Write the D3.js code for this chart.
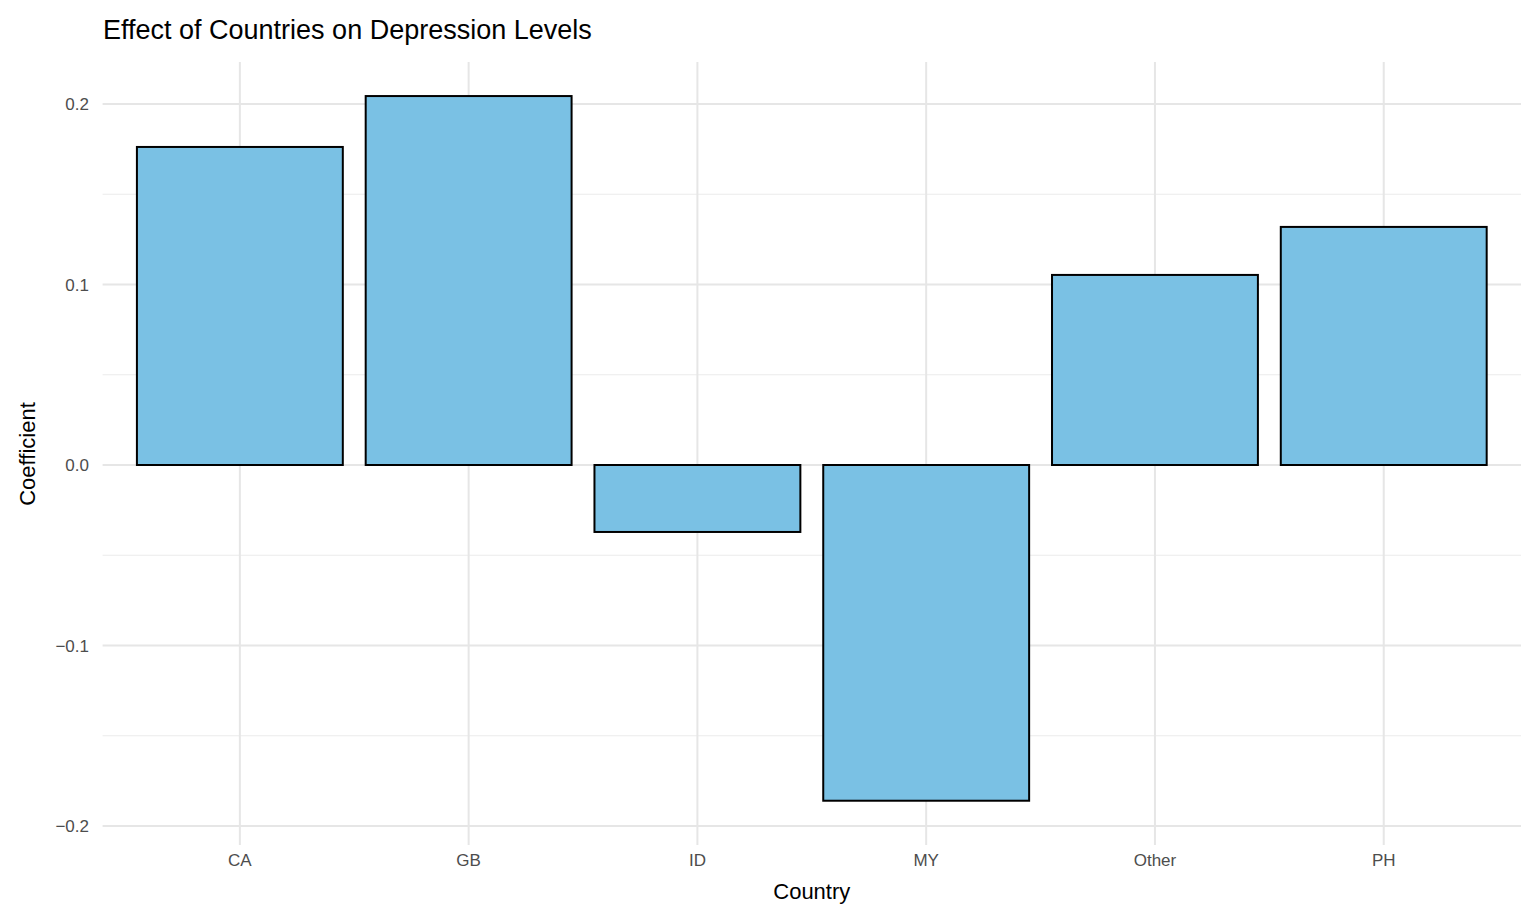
<!DOCTYPE html>
<html lang="en">
<head>
  <meta charset="UTF-8">
  <script src="https://d3js.org/d3.v7.min.js"></script>
  <style>
    body { margin: 0; background: #fff; }
    text { font-family: "Liberation Sans", Arial, sans-serif; }
  </style>
</head>
<body>
  <svg id="chart" width="1536" height="921"></svg>
  <script>
    const countries = ["CA", "GB", "ID", "MY", "Other", "PH"];
    const coefficients = [0.1762, 0.2044, -0.0371, -0.186, 0.1053, 0.1319];
    const yTicks = [-0.2, -0.1, 0.0, 0.1, 0.2];
    const yMinor = [-0.15, -0.05, 0.05, 0.15];

    const data = countries.map((c, i) => ({ country: c, value: coefficients[i] }));
    const svg = d3.select("#chart");
    const panel = { left: 102.6, right: 1521, top: 62, bottom: 845 };

    const xScale = d3.scaleBand()
      .domain(countries)
      .range([panel.left, panel.right])
      .paddingInner(0.1)
      .paddingOuter(0.15);
    const yScale = d3.scaleLinear().domain([-0.2, 0.2]).range([826, 104]);

    //Gridlines
    svg.selectAll("line.minor").data(yMinor).join("line")
      .attr("x1", panel.left).attr("x2", panel.right)
      .attr("y1", d => yScale(d)).attr("y2", d => yScale(d))
      .attr("stroke", "#ebebeb").attr("stroke-width", 1);
    svg.selectAll("line.major").data(yTicks).join("line")
      .attr("x1", panel.left).attr("x2", panel.right)
      .attr("y1", d => yScale(d)).attr("y2", d => yScale(d))
      .attr("stroke", "#e6e6e6").attr("stroke-width", 2);
    svg.selectAll("line.vmajor").data(countries).join("line")
      .attr("x1", d => xScale(d) + xScale.bandwidth() / 2)
      .attr("x2", d => xScale(d) + xScale.bandwidth() / 2)
      .attr("y1", panel.top).attr("y2", panel.bottom)
      .attr("stroke", "#e6e6e6").attr("stroke-width", 2);

    //Bars
    svg.selectAll("rect.bar").data(data).join("rect")
      .attr("x", d => xScale(d.country))
      .attr("width", xScale.bandwidth())
      .attr("y", d => yScale(Math.max(0, d.value)))
      .attr("height", d => Math.abs(yScale(d.value) - yScale(0)))
      .attr("fill", "#7ac1e4").attr("stroke", "#000").attr("stroke-width", 2);

    //Tick labels
    svg.selectAll("text.ytick").data(yTicks).join("text")
      .attr("x", 89).attr("y", d => yScale(d) + 6)
      .attr("text-anchor", "end").attr("font-size", 17).attr("fill", "#4d4d4d")
      .text(d => d3.format(".1f")(d));
    svg.selectAll("text.xtick").data(countries).join("text")
      .attr("x", d => xScale(d) + xScale.bandwidth() / 2).attr("y", 866)
      .attr("text-anchor", "middle").attr("font-size", 17).attr("fill", "#4d4d4d")
      .text(d => d);

    //Titles
    svg.append("text").attr("x", (panel.left + panel.right) / 2).attr("y", 899)
      .attr("text-anchor", "middle").attr("font-size", 22).text("Country");
    svg.append("text").attr("transform", "translate(35,454) rotate(-90)")
      .attr("text-anchor", "middle").attr("font-size", 22).text("Coefficient");
    svg.append("text").attr("x", 103).attr("y", 39)
      .attr("font-size", 27).text("Effect of Countries on Depression Levels");
  </script>
</body>
</html>
